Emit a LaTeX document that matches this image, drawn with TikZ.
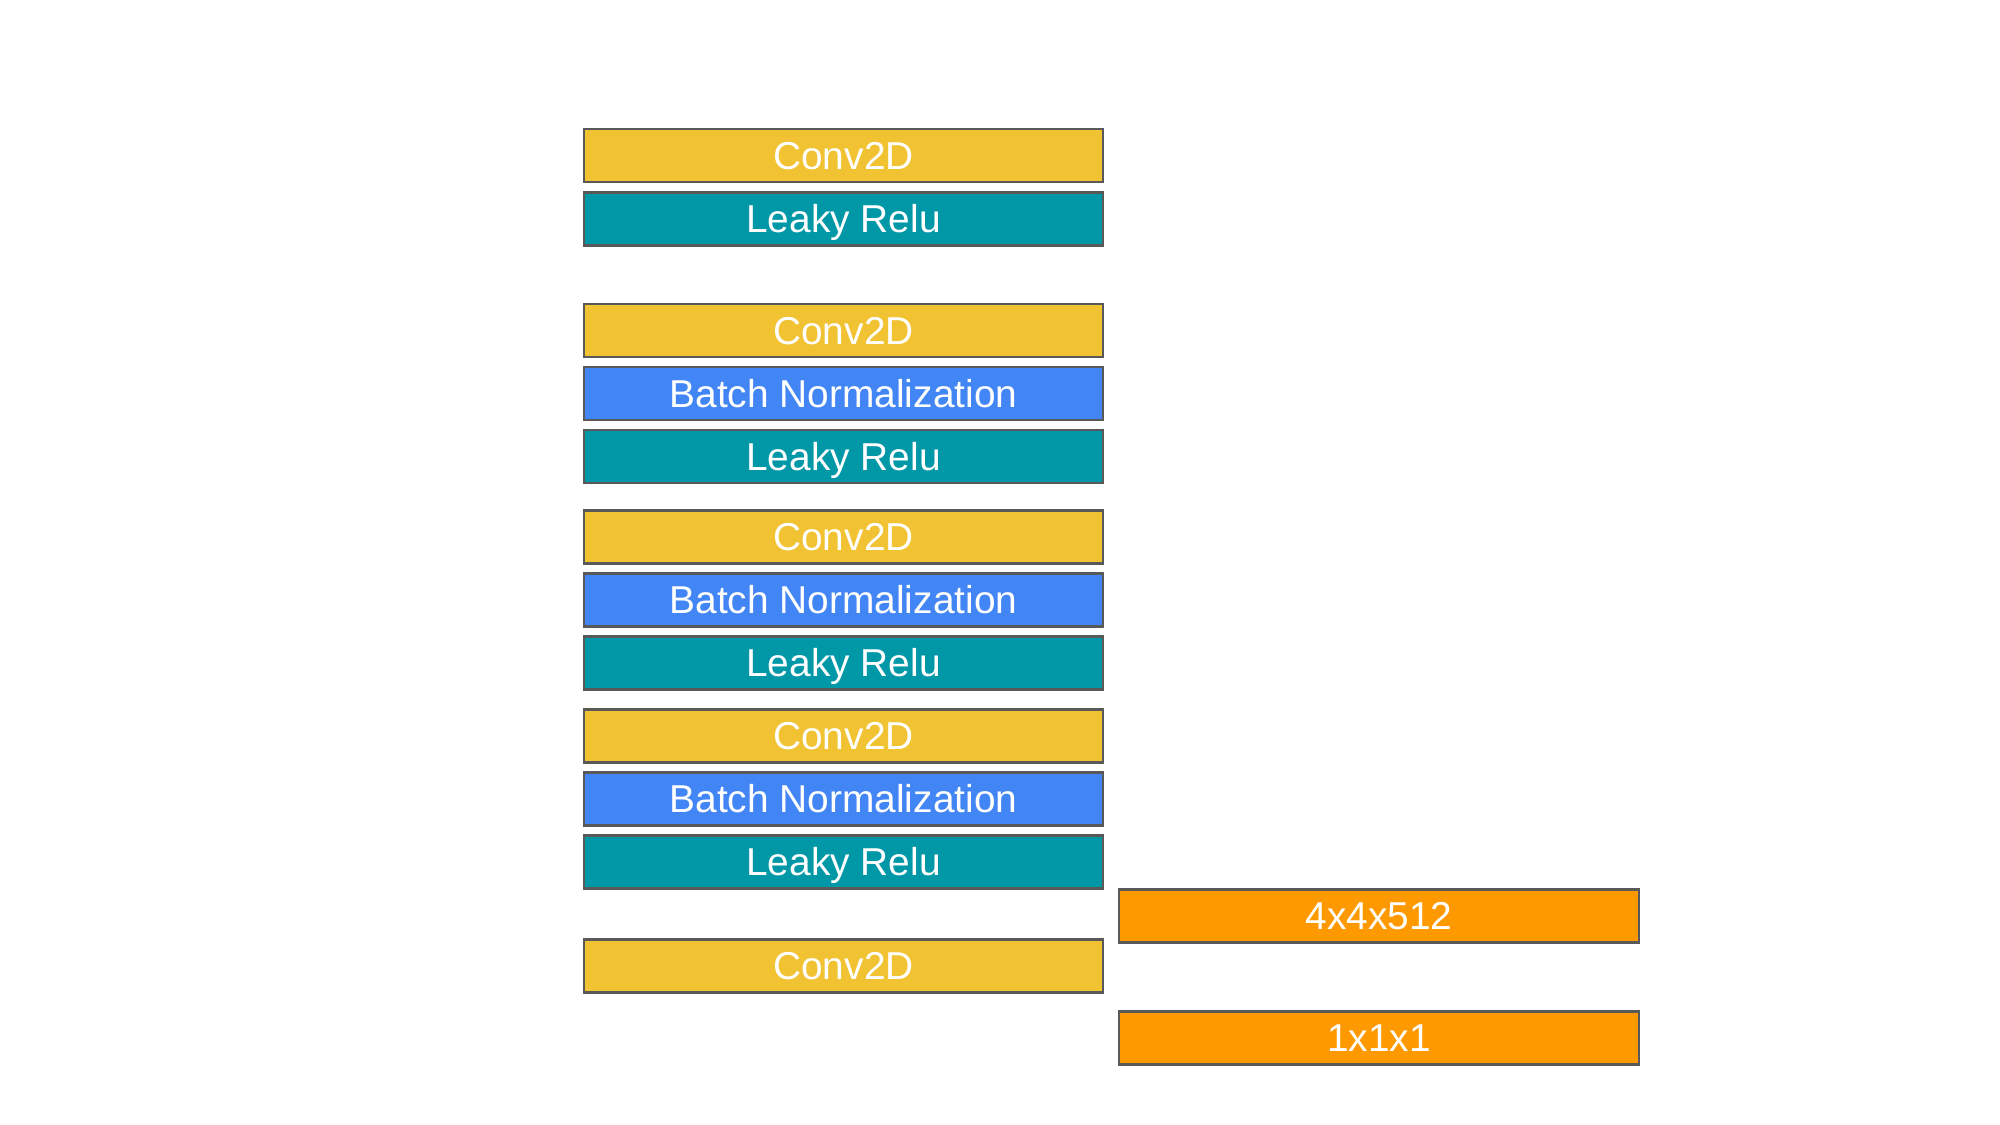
\documentclass[tikz,border=0pt]{standalone}
\usepackage{fontspec}
\setmainfont{Liberation Sans}
\definecolor{convc}{HTML}{F1C232}
\definecolor{leakc}{HTML}{0097A7}
\definecolor{bnc}{HTML}{4285F4}
\definecolor{outc}{HTML}{FF9900}
\definecolor{edgec}{HTML}{595959}
\tikzset{
  layer/.style={draw=edgec, line width=0.6pt, minimum width=5.19cm, minimum height=0.53cm,
    inner sep=0pt, text=white, font=\fontsize{11.05}{13}\selectfont,
    text height=7.9pt, text depth=0pt},
  convbox/.style={layer, fill=convc},
  leakbox/.style={layer, fill=leakc},
  bnbox/.style={layer, fill=bnc},
  outbox/.style={layer, fill=outc},
}
\begin{document}
\begin{tikzpicture}[x=0.01cm,y=-0.01cm]
\useasboundingbox (0,0) rectangle (2000,1125);
\node[convbox] (c1) at (843.5,155.5) {Conv2D};
\node[leakbox] (l1) at (843.5,219) {Leaky Relu};
\node[convbox] (c2) at (843.5,330.5) {Conv2D};
\node[bnbox]   (b2) at (843.5,393.5) {Batch Normalization};
\node[leakbox] (l2) at (843.5,456.5) {Leaky Relu};
\node[convbox] (c3) at (843.5,537) {Conv2D};
\node[bnbox]   (b3) at (843.5,600) {Batch Normalization};
\node[leakbox] (l3) at (843.5,663) {Leaky Relu};
\node[convbox] (c4) at (843.5,736) {Conv2D};
\node[bnbox]   (b4) at (843.5,799) {Batch Normalization};
\node[leakbox] (l4) at (843.5,862) {Leaky Relu};
\node[convbox] (c5) at (843.5,966) {Conv2D};
\node[outbox]  (o1) at (1379,916) {4x4x512};
\node[outbox]  (o2) at (1379,1038) {1x1x1};
\end{tikzpicture}
\end{document}
